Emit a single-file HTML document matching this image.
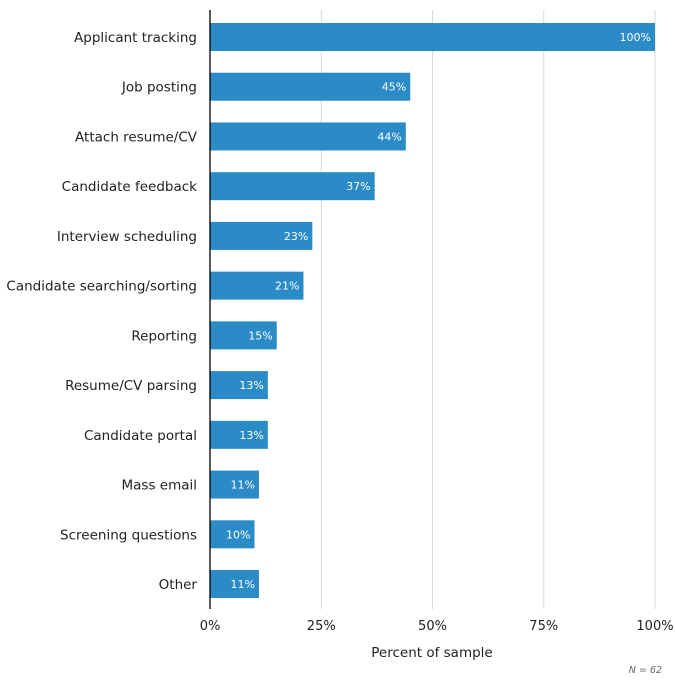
<!DOCTYPE html>
<html><head><meta charset="utf-8"><style>
body{margin:0;background:#fff;}
svg text{font-family:"DejaVu Sans","Liberation Sans",sans-serif;}
</style></head><body>
<svg id="c" width="675" height="694"></svg>
<script>
const categories=["Applicant tracking","Job posting","Attach resume/CV","Candidate feedback","Interview scheduling","Candidate searching/sorting","Reporting","Resume/CV parsing","Candidate portal","Mass email","Screening questions","Other"];
const values=[100,45,44,37,23,21,15,13,13,11,10,11];
const ticks=[0,25,50,75,100];
const ns="http://www.w3.org/2000/svg";
const svg=document.getElementById('c');
const x0=210,x1=655,yTop=10,yBot=609,first=37,step=49.73,bh=28;
const X=v=>x0+(x1-x0)*v/100;
const Y=i=>first+i*step;
function mk(t,a,txt){const e=document.createElementNS(ns,t);for(const k in a)e.setAttribute(k,a[k]);if(txt!==undefined)e.textContent=txt;svg.appendChild(e);return e;}
ticks.forEach(t=>{
 if(t>0){const g=mk('line',{x1:X(t),x2:X(t),y1:yTop,y2:yBot,stroke:'#d9d9d9','stroke-width':1});
 
 }
 const l=mk('text',{x:X(t),y:630,'text-anchor':'middle','font-size':13,fill:'#222'},t+'%');
 
 
});
categories.forEach((c,i)=>{
 const r=mk('rect',{x:x0,y:Y(i)-bh/2,width:X(values[i])-x0,height:bh,fill:'#2b8bc6'});
 
 
 const l=mk('text',{x:197,y:Y(i)+5,'text-anchor':'end','font-size':13.5,fill:'#222'},c);
 
 
 const v=mk('text',{x:X(values[i])-4,y:Y(i)+4,'text-anchor':'end','font-size':11,fill:'#fff'},values[i]+'%');
 
 
});
const ax=mk('line',{x1:x0,x2:x0,y1:yTop,y2:yBot,stroke:'#000','stroke-width':1.3});


const tt=mk('text',{x:432,y:657,'text-anchor':'middle','font-size':13.5,fill:'#222'},'Percent of sample');


const n=mk('text',{x:662,y:673,'text-anchor':'end','font-size':9.5,'font-style':'italic',fill:'#666'},'N = 62');


</script>
</body></html>
